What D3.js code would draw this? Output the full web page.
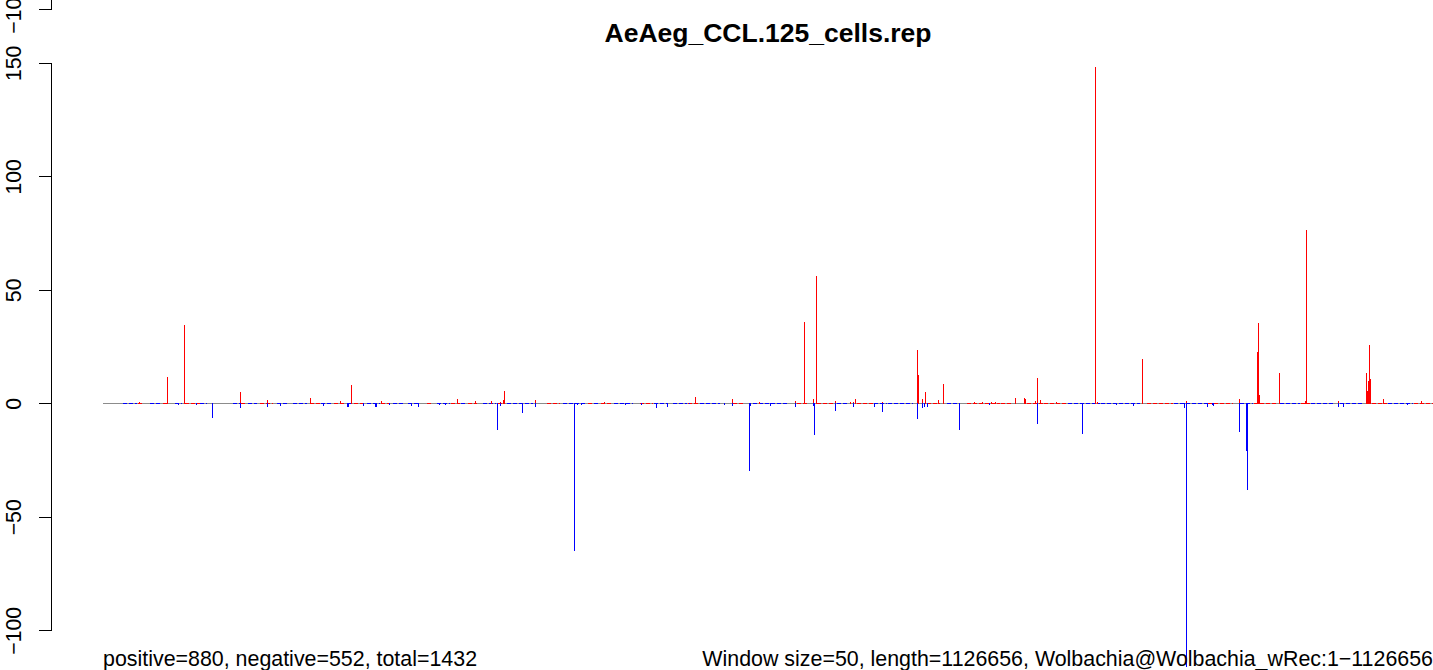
<!DOCTYPE html>
<html>
<head>
<meta charset="utf-8">
<script src="https://cdn.jsdelivr.net/npm/d3@7"></script>
<style>
  html, body { margin: 0; padding: 0; background: #fff; }
  svg { display: block; }
  text { font-family: "Liberation Sans", Arial, Helvetica, sans-serif; }
</style>
</head>
<body>
<svg id="chart" width="1433" height="670"></svg>
<script>
// Wolbachia wRec coverage difference per 50 bp window (positive / negative strand)
const genomeLength = 1126656;
const chartTitle = "AeAeg_CCL.125_cells.rep";
const leftNote = "positive=880, negative=552, total=1432";
const rightNote = "Window size=50, length=1126656, Wolbachia@Wolbachia_wRec:1\u22121126656";
const yTicks = [-100, -50, 0, 50, 100, 150];

// windows with a positive score: start position (bp) and value
const posStart = [30750, 54807, 68869, 116307, 139179, 175604, 201017, 210335, 236087, 300128,
  315375, 328929, 336553, 339094, 339941, 366201, 424651, 501738, 533080, 555952,
  586448, 594071, 601695, 604236, 620331, 633037, 635579, 637273, 660144, 689793,
  690640, 694028, 696570, 707582, 711818, 738078, 744855, 752479, 755867, 772809,
  780433, 781280, 789751, 791445, 793987, 807540, 840916, 842271, 880391, 917664,
  962560, 977807, 978654, 979502, 996444, 1018468, 1019315, 1046422, 1070141, 1070988,
  1071835, 1072682, 1073530, 1084542, 1116731];
const posValue = [0.6, 11.6, 34.5, 5, 1.5, 2.3, 1, 8.1, 1, 1.9,
  1, 1, 0.6, 1.5, 5.4, 1.5, 0.6, 2.8, 1.9, 0.6,
  1, 36, 1.9, 56, 1, 0.6, 0.6, 1.9, 0.6, 23.5,
  12.5, 1.9, 5, 1.5, 8.5, 0.6, 0.6, 0.6, 0.6, 2.3,
  2.3, 1.9, 1, 11.2, 1.5, 0.6, 148, 0.6, 19.5, 1,
  1.9, 22.6, 35.2, 3.7, 13.4, 1, 76.5, 1, 13.4, 5.4,
  9.8, 25.7, 10.7, 1.9, 1];

// windows with a negative score: start position (bp) and value
const negStart = [63787, 79034, 92588, 116307, 139179, 150191, 186955, 207285, 208132, 220500,
  231004, 231851, 242525, 261500, 267091, 284880, 289962, 334012, 336553, 355189,
  366201, 399238, 401780, 405168, 442441, 455995, 468701, 478019, 496655, 526304,
  533080, 547477, 548324, 565266, 586448, 601695, 602542, 620331, 635579, 653368,
  660144, 689793, 694028, 695723, 698264, 725372, 750784, 791445, 829575, 858376,
  872777, 915970, 917664, 935443, 939678, 940525, 962560, 968503, 969350, 1046422,
  1050662, 1104871];
const negValue = [-0.7, -0.7, -6.3, -1.9, -1.6, -1.2, -1.2, -1.6, -1.6, -1.2,
  -1.6, -1.6, -0.7, -1.2, -1.6, -0.7, -0.7, -11.7, -1.2, -4.3,
  -1.6, -65, -0.7, -0.7, -0.7, -0.7, -2, -1.6, -0.3, -0.7,
  -1.2, -30, -1.2, -1.2, -1.6, -1.2, -14, -3.4, -1.6, -1.6,
  -3.8, -6.9, -2, -1.6, -1.6, -11.7, -0.7, -9.1, -13.5, -0.7,
  -1.2, -2, -116, -1.6, -0.7, -1.2, -12.6, -21, -38, -1.6,
  -1.6, -0.7];

// stretches of near-zero windows: start, end (bp) and sign of the small scores
const lowStart = [16942, 29649, 39814, 50826, 60991, 69462, 82169, 110123, 116900, 122830,
  132995, 147395, 160949, 175350, 184668, 195681, 206692, 212622, 223634, 235494,
  245659, 258366, 274460, 282931, 294791, 303262, 309192, 321898, 334605, 342229,
  376112, 389666, 410844, 415926, 421856, 432868, 454893, 466753, 482848, 495554,
  505719, 533673, 550615, 587887, 604829, 621770, 638712, 653112, 664972, 698010,
  714952, 731894, 760695, 782714, 797115, 817445, 845400, 884372, 907244, 936045,
  963153, 975012, 997037, 1014826, 1023297, 1047863, 1074970, 1088524, 1110548];
const lowEnd = [28801, 33037, 49979, 54214, 66921, 82169, 88099, 116053, 121982, 130453,
  144007, 155866, 172809, 183821, 194833, 205846, 211775, 220246, 234646, 243117,
  255824, 268531, 279543, 293944, 302414, 308344, 316816, 332911, 338840, 364253,
  387124, 409997, 415079, 421009, 432021, 448963, 465906, 477765, 494707, 505719,
  522661, 542144, 579416, 596358, 618382, 630241, 652265, 664125, 686150, 709023,
  725965, 759848, 770860, 796267, 816598, 844553, 878437, 906397, 935198, 957223,
  974165, 994496, 1013979, 1022450, 1041933, 1067346, 1087677, 1109701, 1126656];
const lowSign = [-1, 1, -1, 1, -1, 1, -1, -1, 1, -1,
  1, -1, -1, 1, -1, 1, -1, 1, -1, 1,
  -1, -1, 1, -1, 1, -1, 1, -1, 1, -1,
  1, -1, 1, -1, 1, -1, 1, -1, -1, 1,
  -1, 1, -1, 1, 1, -1, 1, -1, -1, 1,
  -1, 1, 1, 1, 1, -1, -1, 1, -1, 1,
  -1, 1, -1, 1, -1, -1, 1, -1, 1];

const svg = d3.select("#chart");
svg.append("rect").attr("width", 1433).attr("height", 670).attr("fill", "#fff");

const x = d3.scaleLinear().domain([1, genomeLength]).range([103, 1433]);
const y = d3.scaleLinear().domain([-100, 150]).range([630.3, 62.8]);
const y0 = Math.round(y(0));

const plot = svg.append("g").attr("shape-rendering", "crispEdges");

// zero line
plot.append("line")
  .attr("x1", x(1)).attr("x2", x(genomeLength))
  .attr("y1", y0 + 0.5).attr("y2", y0 + 0.5)
  .attr("stroke", "#8c8c8c").attr("stroke-width", 1);

// near-zero stretches along the baseline
plot.append("g").selectAll("line")
  .data(d3.range(lowStart.length))
  .join("line")
  .attr("x1", i => x(lowStart[i])).attr("x2", i => x(lowEnd[i]))
  .attr("y1", y0 + 0.5).attr("y2", y0 + 0.5)
  .attr("stroke", i => lowSign[i] > 0 ? "#ff0000" : "#0000ff")
  .attr("stroke-width", 1)
  .attr("stroke-dasharray", "4 2");

// positive windows
plot.append("g").selectAll("rect")
  .data(d3.range(posStart.length))
  .join("rect")
  .attr("x", i => Math.floor(x(posStart[i])))
  .attr("width", 1)
  .attr("y", i => Math.min(y0, Math.round(y(posValue[i]))))
  .attr("height", i => y0 + 1 - Math.min(y0, Math.round(y(posValue[i]))))
  .attr("fill", "#ff0000");

// negative windows
plot.append("g").selectAll("rect")
  .data(d3.range(negStart.length))
  .join("rect")
  .attr("x", i => Math.floor(x(negStart[i])))
  .attr("width", 1)
  .attr("y", y0)
  .attr("height", i => Math.max(1, Math.round(y(negValue[i])) - y0))
  .attr("fill", "#0000ff");

// y axis
function styleAxis(g) {
  g.selectAll("path, line").attr("stroke", "#000").attr("stroke-width", 1);
  g.selectAll("text")
    .attr("x", 0).attr("dy", 0).attr("y", 0)
    .attr("text-anchor", "middle")
    .attr("transform", "translate(-29.5,0) rotate(-90)")
    .attr("fill", "#000")
    .style("font-size", "21.3px")
    .style("font-family", "'Liberation Sans', Arial, sans-serif");
}

svg.append("g")
  .attr("transform", "translate(50.5,0)")
  .attr("shape-rendering", "crispEdges")
  .call(d3.axisLeft(y).tickValues(yTicks).tickSize(12).tickSizeOuter(0).tickFormat(d3.format("d")))
  .call(styleAxis);

// lower end of the axis belonging to the panel above
const yAbove = d3.scaleLinear().domain([-100, -90]).range([9.3, -13.4]);
svg.append("g")
  .attr("transform", "translate(50.5,0)")
  .attr("shape-rendering", "crispEdges")
  .call(d3.axisLeft(yAbove).tickValues([-100]).tickSize(12).tickSizeOuter(0).tickFormat(d3.format("d")))
  .call(styleAxis);

// title
svg.append("text")
  .attr("x", 768).attr("y", 42)
  .attr("text-anchor", "middle")
  .style("font-size", "26.5px").style("font-weight", "bold")
  .text(chartTitle);

// footnotes
svg.append("text")
  .attr("x", x(1)).attr("y", 666)
  .attr("text-anchor", "start")
  .style("font-size", "21.4px")
  .text(leftNote);

svg.append("text")
  .attr("x", x(genomeLength)).attr("y", 666)
  .attr("text-anchor", "end")
  .style("font-size", "21.4px")
  .text(rightNote);
</script>
</body>
</html>
